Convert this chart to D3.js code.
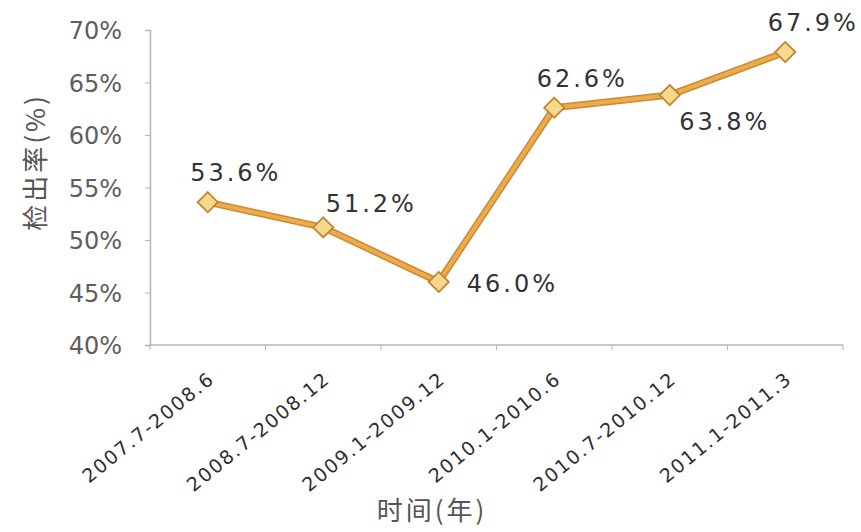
<!DOCTYPE html>
<html>
<head>
<meta charset="utf-8">
<script src="https://cdn.jsdelivr.net/npm/d3@7/dist/d3.min.js"></script>
<style>
  html, body { margin: 0; padding: 0; background: #fff; }
  svg { display: block; }
</style>
</head>
<body>
<svg id="chart" width="861" height="532"></svg>
<script>
// Detection rate per period
const periods = ["2007.7-2008.6", "2008.7-2008.12", "2009.1-2009.12", "2010.1-2010.6", "2010.7-2010.12", "2011.1-2011.3"];
const rates = [53.6, 51.2, 46.0, 62.6, 63.8, 67.9];
const yTicks = [40, 45, 50, 55, 60, 65, 70];
// where each value label sits relative to its point
const labelPos = ["above", "aboveRight", "right", "above", "belowRight", "above"];

const svg = d3.select("#chart");
const margin = { left: 150, right: 18, top: 30, bottom: 187 };
const W = 861, H = 532;

const x = d3.scaleBand().domain(periods).range([margin.left, W - margin.right]);
const y = d3.scaleLinear().domain([40, 70]).range([H - margin.bottom, margin.top]);

const font = "'DejaVu Sans', Verdana, sans-serif";
const cjk = "'Noto Sans CJK SC', sans-serif";
const axisColor = "#b4b4b4";

// y axis
const yAxis = svg.append("g")
  .attr("transform", `translate(${margin.left},0)`)
  .call(d3.axisLeft(y).tickValues(yTicks).tickFormat(d => d + "%").tickSize(5).tickPadding(23));
yAxis.select(".domain").attr("stroke", axisColor).attr("stroke-width", 1.5);
yAxis.selectAll(".tick line").attr("stroke", axisColor);
yAxis.selectAll("text").attr("font-family", font).attr("font-size", 24).attr("fill", "#5e5e5e")
  .attr("dy", "0.36em");

// x axis with ticks on the band boundaries
const xAxisG = svg.append("g").attr("transform", `translate(0,${y(40)})`);
xAxisG.append("line")
  .attr("x1", margin.left).attr("x2", W - margin.right)
  .attr("stroke", axisColor).attr("stroke-width", 1.5);
const bounds = periods.map(p => x(p)).concat([x(periods[periods.length - 1]) + x.bandwidth()]);
xAxisG.selectAll(".bt").data(bounds).join("line")
  .attr("x1", d => d).attr("x2", d => d).attr("y1", 0).attr("y2", 5)
  .attr("stroke", axisColor);
xAxisG.selectAll(".xl").data(periods).join("text")
  .attr("transform", d => `translate(${x(d) + x.bandwidth() / 2 + 8},${36}) rotate(-39)`)
  .attr("text-anchor", "end")
  .attr("font-family", font).attr("font-size", 19).attr("letter-spacing", 1.8)
  .attr("fill", "#2e2e2e")
  .text(d => d);

// axis titles
svg.append("text")
  .attr("x", 432).attr("y", 520)
  .attr("text-anchor", "middle")
  .attr("font-family", cjk).attr("font-size", 26).attr("letter-spacing", 3).attr("fill", "#555")
  .text("时间(年)");
svg.append("text")
  .attr("transform", `translate(45,162) rotate(-90)`)
  .attr("text-anchor", "middle")
  .attr("font-family", cjk).attr("font-size", 26).attr("letter-spacing", 3).attr("fill", "#555")
  .text("检出率(%)");

const data = periods.map((p, i) => ({ p, v: rates[i], pos: labelPos[i] }));
const cx = d => x(d.p) + x.bandwidth() / 2;

// line drawn twice for a darker edge
const line = d3.line().x(cx).y(d => y(d.v));
svg.append("path").datum(data).attr("d", line)
  .attr("fill", "none").attr("stroke", "#c98a32").attr("stroke-width", 7).attr("stroke-linejoin", "round");
svg.append("path").datum(data).attr("d", line)
  .attr("fill", "none").attr("stroke", "#eeab4c").attr("stroke-width", 4).attr("stroke-linejoin", "round");

// diamond markers
const sym = d3.symbol().type(d3.symbolDiamond2).size(260);
svg.selectAll(".mk").data(data).join("path")
  .attr("transform", d => `translate(${cx(d)},${y(d.v)})`)
  .attr("d", sym)
  .attr("fill", "#f7d88c").attr("stroke", "#c38633").attr("stroke-width", 1.8);

// value labels
const off = {
  above: [28, -21, "middle"],
  aboveRight: [48, -15, "middle"],
  right: [28, 10, "start"],
  belowRight: [55, 35, "middle"]
};
svg.selectAll(".vl").data(data).join("text")
  .attr("x", d => cx(d) + off[d.pos][0])
  .attr("y", d => y(d.v) + off[d.pos][1])
  .attr("text-anchor", d => off[d.pos][2])
  .attr("font-family", font).attr("font-size", 24).attr("letter-spacing", 3)
  .attr("fill", "#333")
  .text(d => d.v.toFixed(1) + "%");
</script>
</body>
</html>
